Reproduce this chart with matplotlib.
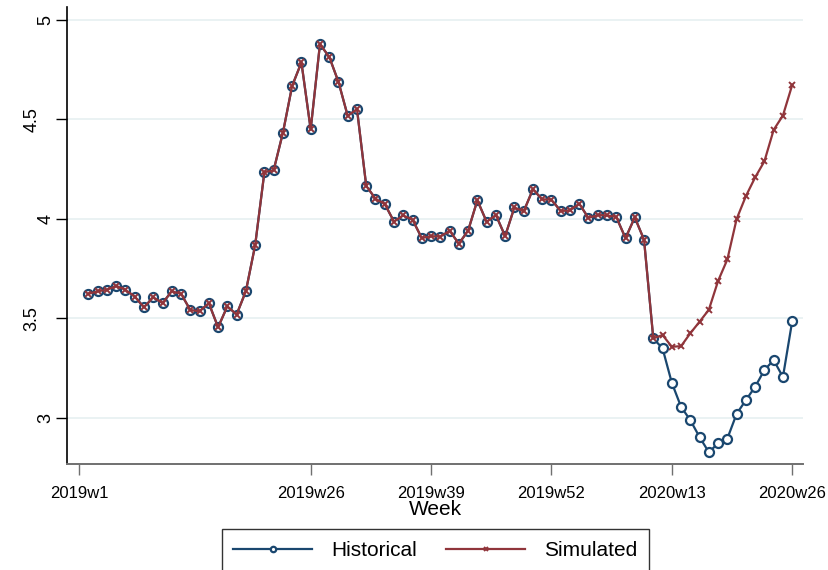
import matplotlib
matplotlib.use("Agg")
import matplotlib.pyplot as plt
from matplotlib.transforms import ScaledTranslation

plt.rcParams['font.family'] = ['Liberation Sans', 'DejaVu Sans']

# week labels 2019w1 .. 2020w26
weeks = [f"2019w{w}" for w in range(1, 53)] + [f"2020w{w}" for w in range(1, 27)]

# data starts at 2019w2
historical = [
    3.623, 3.636, 3.643, 3.663, 3.643, 3.609, 3.555, 3.606, 3.576, 3.636,
    3.623, 3.542, 3.535, 3.576, 3.455, 3.560, 3.519, 3.636, 3.866, 4.234,
    4.244, 4.432, 4.668, 4.786, 4.449, 4.877, 4.814, 4.688, 4.517, 4.551,
    4.165, 4.101, 4.074, 3.986, 4.017, 3.995, 3.903, 3.913, 3.910, 3.940,
    3.875, 3.940, 4.093, 3.985, 4.019, 3.913, 4.057, 4.037, 4.148, 4.098,
    4.096, 4.039, 4.042, 4.076, 4.004, 4.019, 4.017, 4.009, 3.903, 4.007,
    3.895, 3.399, 3.349, 3.176, 3.055, 2.988, 2.903, 2.827, 2.872, 2.896,
    3.020, 3.089, 3.156, 3.240, 3.290, 3.205, 3.485,
]
# simulated path follows history until the break, then diverges
simulated_tail = [
    3.416, 3.357, 3.360, 3.425, 3.483, 3.543, 3.688, 3.796, 3.999, 4.114,
    4.208, 4.289, 4.447, 4.519, 4.672,
]
simulated = historical[:62] + simulated_tail

tick_weeks = ["2019w1", "2019w26", "2019w39", "2019w52", "2020w13", "2020w26"]
y_ticks = [3, 3.5, 4, 4.5, 5]

NAVY = "#1a476f"
MAROON = "#90353b"
AXGRAY = "#707070"

x = list(range(1, 1 + len(historical)))

fig = plt.figure(figsize=(8.29, 5.70), dpi=100)
ax = fig.add_axes([0.081, 0.186, 0.888, 0.802])

for yt in y_ticks:
    ax.axhline(yt, color="#eaf2f3", lw=1.4, zorder=0)

ax.plot(x, historical, color=NAVY, lw=1.6, marker="o", ms=6.5, mfc="white",
        mec=NAVY, mew=1.6, label="Historical", zorder=2)
ax.plot(x, simulated, color=MAROON, lw=1.6, marker="x", ms=5, mec=MAROON,
        mew=1.4, label="Simulated", zorder=3)

ax.set_xlim(-1.3, 78.2)
ax.set_ylim(2.768, 5.065)
ax.set_xticks([weeks.index(w) for w in tick_weeks])
ax.set_xticklabels(tick_weeks, fontsize=12)
ax.set_yticks(y_ticks)
ax.set_yticklabels([f"{v:g}" for v in y_ticks], fontsize=13, rotation=90, va="center")
ax.tick_params(axis="x", length=8, width=1, color=AXGRAY, pad=8)
ax.tick_params(axis="y", length=8, width=1, color="black", pad=1)

# Stata-style alternating y labels: the half values sit further out
for v, lab in zip(y_ticks, ax.get_yticklabels()):
    if v != int(v):
        lab.set_transform(lab.get_transform() + ScaledTranslation(-14 / 100, 0, fig.dpi_scale_trans))

for s in ["top", "right"]:
    ax.spines[s].set_visible(False)
ax.spines["left"].set_color("black")
ax.spines["left"].set_linewidth(1.2)
ax.spines["bottom"].set_color(AXGRAY)
ax.spines["bottom"].set_linewidth(1.4)

ax.set_xlabel("Week", fontsize=15, labelpad=-1)

leg = ax.legend(loc="upper center", bbox_to_anchor=(0.5, -0.143), ncol=2,
                fontsize=15, frameon=True, fancybox=False, edgecolor="black",
                handlelength=3.8, markerscale=0.6, columnspacing=1.4,
                borderpad=0.55, handletextpad=0.9, borderaxespad=0)
leg.get_frame().set_linewidth(1)

fig.savefig("out.png", dpi=100)
